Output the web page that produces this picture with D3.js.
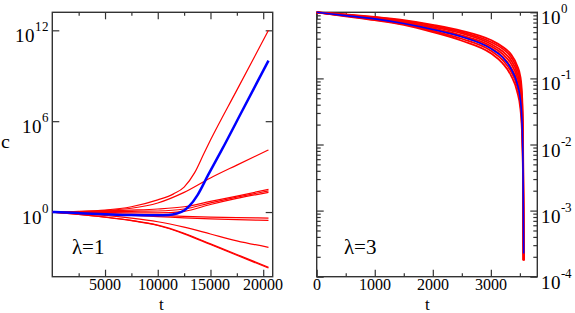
<!DOCTYPE html>
<html>
<head>
<meta charset="utf-8">
<script src="https://cdn.jsdelivr.net/npm/d3@7"></script>
<style>
  @font-face { font-family: "ChartSerif"; src: local("Liberation Serif"), local("LiberationSerif"), local("Liberation Serif Regular"), local("LiberationSerif-Regular"); }
  body { margin: 0; background: #fff; }
  svg text, svg tspan { font-family: "ChartSerif", "Liberation Serif", "Times New Roman", "DejaVu Serif", serif !important; }
</style>
</head>
<body>
<svg id="chart" width="575" height="313" font-family="Liberation Serif"></svg>
<script>
// values, stored as [t, log10 c]

// lambda = 1 (left panel)
const leftRed = [
  [[0,0],[2500,0.04],[5000,0.13],[7500,0.35],[10000,0.8],[11500,1.2],[12500,1.65],[13500,2.6],[14400,3.9],[15000,4.75],[17500,8.05],[20500,12]],
  [[0,0],[2500,0.03],[5000,0.1],[7500,0.25],[10000,0.6],[12500,1.3],[15000,2.25],[17500,3.1],[20500,4.1]],
  [[0,0],[2500,0.03],[5000,0.08],[7500,0.13],[10000,0.2],[12500,0.35],[15000,0.7],[17500,1.05],[20500,1.5]],
  [[0,0],[2500,0.01],[5000,0.03],[7500,0.05],[10000,0.07],[12500,0.2],[15000,0.6],[17500,0.98],[20500,1.4]],
  [[0,0],[2500,-0.01],[5000,-0.03],[7500,-0.05],[10000,-0.06],[12500,0.05],[15000,0.5],[17500,0.9],[20500,1.3]],
  [[0,0],[2500,-0.05],[5000,-0.1],[7500,-0.16],[10000,-0.22],[12500,-0.28],[15000,-0.33],[17500,-0.37],[20500,-0.4]],
  [[0,0],[2500,-0.07],[5000,-0.15],[7500,-0.22],[10000,-0.3],[12500,-0.38],[15000,-0.45],[17500,-0.5],[20500,-0.55]],
  [[0,0],[2500,-0.1],[5000,-0.22],[7500,-0.4],[10000,-0.64],[12500,-1.0],[15000,-1.45],[17500,-1.9],[20500,-2.33]],
  [[0,0],[2500,-0.15],[5000,-0.33],[7500,-0.55],[10000,-0.86],[12500,-1.4],[15000,-2.1],[17500,-2.8],[20500,-3.65]],
  [[0,0],[2500,-0.15],[5000,-0.34],[7500,-0.57],[10000,-0.89],[12500,-1.44],[15000,-2.14],[17500,-2.85],[20500,-3.7]]
]
const leftBlue = [[0,0],[2500,-0.07],[5000,-0.14],[7500,-0.2],[10000,-0.22],[11000,-0.2],[11800,-0.1],[12500,0.1],[13000,0.4],[13770,1.12],[14780,2.45],[16070,4.1],[18000,6.67],[20500,10]]
const leftXMajor = [5000, 10000, 15000, 20000]
const leftXMinor = [2500, 7500, 12500, 17500]
const leftYMajor = [0, 6, 12]

// lambda = 3 (right panel)
const rightT = [0, 500, 1000, 1500, 2000, 2500, 3000, 3200, 3350, 3450, 3510, 3540, 3555, 3565]
const rightRed = [
  [0,-0.03,-0.07,-0.12,-0.19,-0.28,-0.42,-0.52,-0.64,-0.8,-0.98,-1.3,-1.9,-3.75],
  [0,-0.035,-0.075,-0.13,-0.2,-0.3,-0.45,-0.55,-0.68,-0.85,-1.05,-1.4,-2.05,-3.75],
  [0,-0.04,-0.08,-0.14,-0.22,-0.32,-0.48,-0.59,-0.73,-0.91,-1.13,-1.5,-2.2,-3.75],
  [0,-0.045,-0.09,-0.15,-0.24,-0.35,-0.51,-0.63,-0.78,-0.97,-1.2,-1.6,-2.3,-3.75],
  [0,-0.05,-0.1,-0.165,-0.26,-0.37,-0.54,-0.67,-0.84,-1.04,-1.29,-1.7,-2.4,-3.75],
  [0,-0.055,-0.11,-0.18,-0.28,-0.4,-0.58,-0.72,-0.9,-1.11,-1.38,-1.8,-2.5,-3.75],
  [0,-0.06,-0.12,-0.19,-0.3,-0.43,-0.62,-0.77,-0.96,-1.19,-1.47,-1.9,-2.6,-3.75]
]
const rightBlue = [0,-0.05,-0.1,-0.17,-0.26,-0.37,-0.55,-0.68,-0.86,-1.07,-1.33,-1.75,-2.45,-3.65]
const rightXMajor = [0, 1000, 2000, 3000]
const rightXMinor = [500, 1500, 2500, 3500]
const rightYMajor = [0, -1, -2, -3, -4]

const svg = d3.select("#chart")
const frameColor = "#333"
const serif = '"ChartSerif", "Liberation Serif", "Times New Roman", serif'

// left panel scales
const xL = d3.scaleLinear().domain([0, 20900]).range([52.3, 272.7])
const yL = d3.scaleLog().domain([Math.pow(10, -4.27), Math.pow(10, 13.19)]).range([276.7, 12.3])
// right panel scales
const xR = d3.scaleLinear().domain([0, 3800]).range([316.7, 537.3])
const yR = d3.scaleLog().domain([1e-4, 1]).range([276.7, 12.3])

function ticks(g, axisFn, scale, values, size, at) {
  g.append("g")
    .attr("transform", at)
    .call(axisFn(scale).tickValues(values).tickSize(size).tickFormat(""))
    .call(s => s.select(".domain").remove())
    .selectAll("line").attr("stroke", frameColor).attr("stroke-width", 1.2)
}

function panel(x, y, xMajor, xMinor, yMajorV, yMinorV) {
  const g = svg.append("g")
  const [x0, x1] = x.range()
  const [y1, y0] = y.range()
  ticks(g, d3.axisBottom, x, xMajor, -7, `translate(0,${y1})`)
  ticks(g, d3.axisBottom, x, xMinor, -3.5, `translate(0,${y1})`)
  ticks(g, d3.axisTop, x, xMajor, -7, `translate(0,${y0})`)
  ticks(g, d3.axisTop, x, xMinor, -3.5, `translate(0,${y0})`)
  ticks(g, d3.axisLeft, y, yMajorV, -7, `translate(${x0},0)`)
  ticks(g, d3.axisRight, y, yMajorV, -7, `translate(${x1},0)`)
  if (yMinorV.length) {
    ticks(g, d3.axisLeft, y, yMinorV, -4, `translate(${x0},0)`)
    ticks(g, d3.axisRight, y, yMinorV, -4, `translate(${x1},0)`)
  }
  g.append("rect")
    .attr("x", x0).attr("y", y0)
    .attr("width", x1 - x0).attr("height", y1 - y0)
    .attr("fill", "none").attr("stroke", frameColor).attr("stroke-width", 1.4)
  return g
}

// minor log ticks for right panel
const rightYMinor = []
for (let e = -4; e < 0; e++) for (let m = 2; m <= 9; m++) rightYMinor.push(m * Math.pow(10, e))

const gl = panel(xL, yL, leftXMajor, leftXMinor, leftYMajor.map(e => Math.pow(10, e)), [])
const gr = panel(xR, yR, rightXMajor, rightXMinor, rightYMajor.map(e => Math.pow(10, e)), rightYMinor)

// curves
const lineL = d3.line().x(d => xL(d[0])).y(d => yL(Math.pow(10, d[1]))).curve(d3.curveMonotoneX)
const lineR = d3.line().x(d => xR(d[0])).y(d => yR(Math.pow(10, d[1]))).curve(d3.curveMonotoneX)

gl.selectAll(".red").data(leftRed).join("path")
  .attr("d", lineL).attr("fill", "none").attr("stroke", "#ff0000").attr("stroke-width", 1.2)
gl.append("path").datum(leftBlue)
  .attr("d", lineL).attr("fill", "none").attr("stroke", "#0000ff").attr("stroke-width", 2.5)

gr.selectAll(".red").data(rightRed.map(ls => rightT.map((t, i) => [t, ls[i]]))).join("path")
  .attr("d", lineR).attr("fill", "none").attr("stroke", "#ff0000").attr("stroke-width", 1.8)
gr.append("path").datum(rightT.map((t, i) => [t, rightBlue[i]]))
  .attr("d", lineR).attr("fill", "none").attr("stroke", "#0000ff").attr("stroke-width", 1.6)

// all text goes in one top-level group, serif like the original
const txt = svg.append("g").attr("font-family", "Liberation Serif")

// x tick labels
const xLabels = leftXMajor.map(v => ({ x: xL(v), s: v })).concat(rightXMajor.map(v => ({ x: xR(v), s: v })))
txt.selectAll(".xl").data(xLabels).join("text")
  .attr("x", d => d.x).attr("y", 290)
  .attr("text-anchor", "middle")
  .style("font-family", serif).style("font-size", "16px")
  .text(d => d.s)

// y tick labels: 10 with superscript exponent
const yLabs = leftYMajor.map(e => ({ x: 49, y: yL(Math.pow(10, e)), e, a: "end" }))
  .concat(rightYMajor.map(e => ({ x: 540.5, y: yR(Math.pow(10, e)), e, a: "start" })))
const yt = txt.selectAll(".yl").data(yLabs).join("text")
  .attr("x", d => d.x).attr("y", d => d.y + 12)
  .attr("text-anchor", d => d.a)
  .style("font-family", serif)
yt.append("tspan").style("font-size", "19px").text("10")
yt.append("tspan").style("font-size", "13px").attr("dy", -11).text(d => d.e)

// axis titles and annotations
const notes = [
  { x: 5, y: 148, size: 20, s: "c", a: "middle" },
  { x: 161, y: 310, size: 17, s: "t", a: "middle" },
  { x: 427, y: 310, size: 17, s: "t", a: "middle" },
  { x: 72, y: 254, size: 21, s: "λ=1", a: "start" },
  { x: 344, y: 254, size: 21, s: "λ=3", a: "start" }
]
txt.selectAll(".note").data(notes).join("text")
  .attr("x", d => d.x).attr("y", d => d.y)
  .attr("text-anchor", d => d.a)
  .style("font-family", serif)
  .style("font-size", d => d.size + "px")
  .text(d => d.s)
</script>
</body>
</html>
